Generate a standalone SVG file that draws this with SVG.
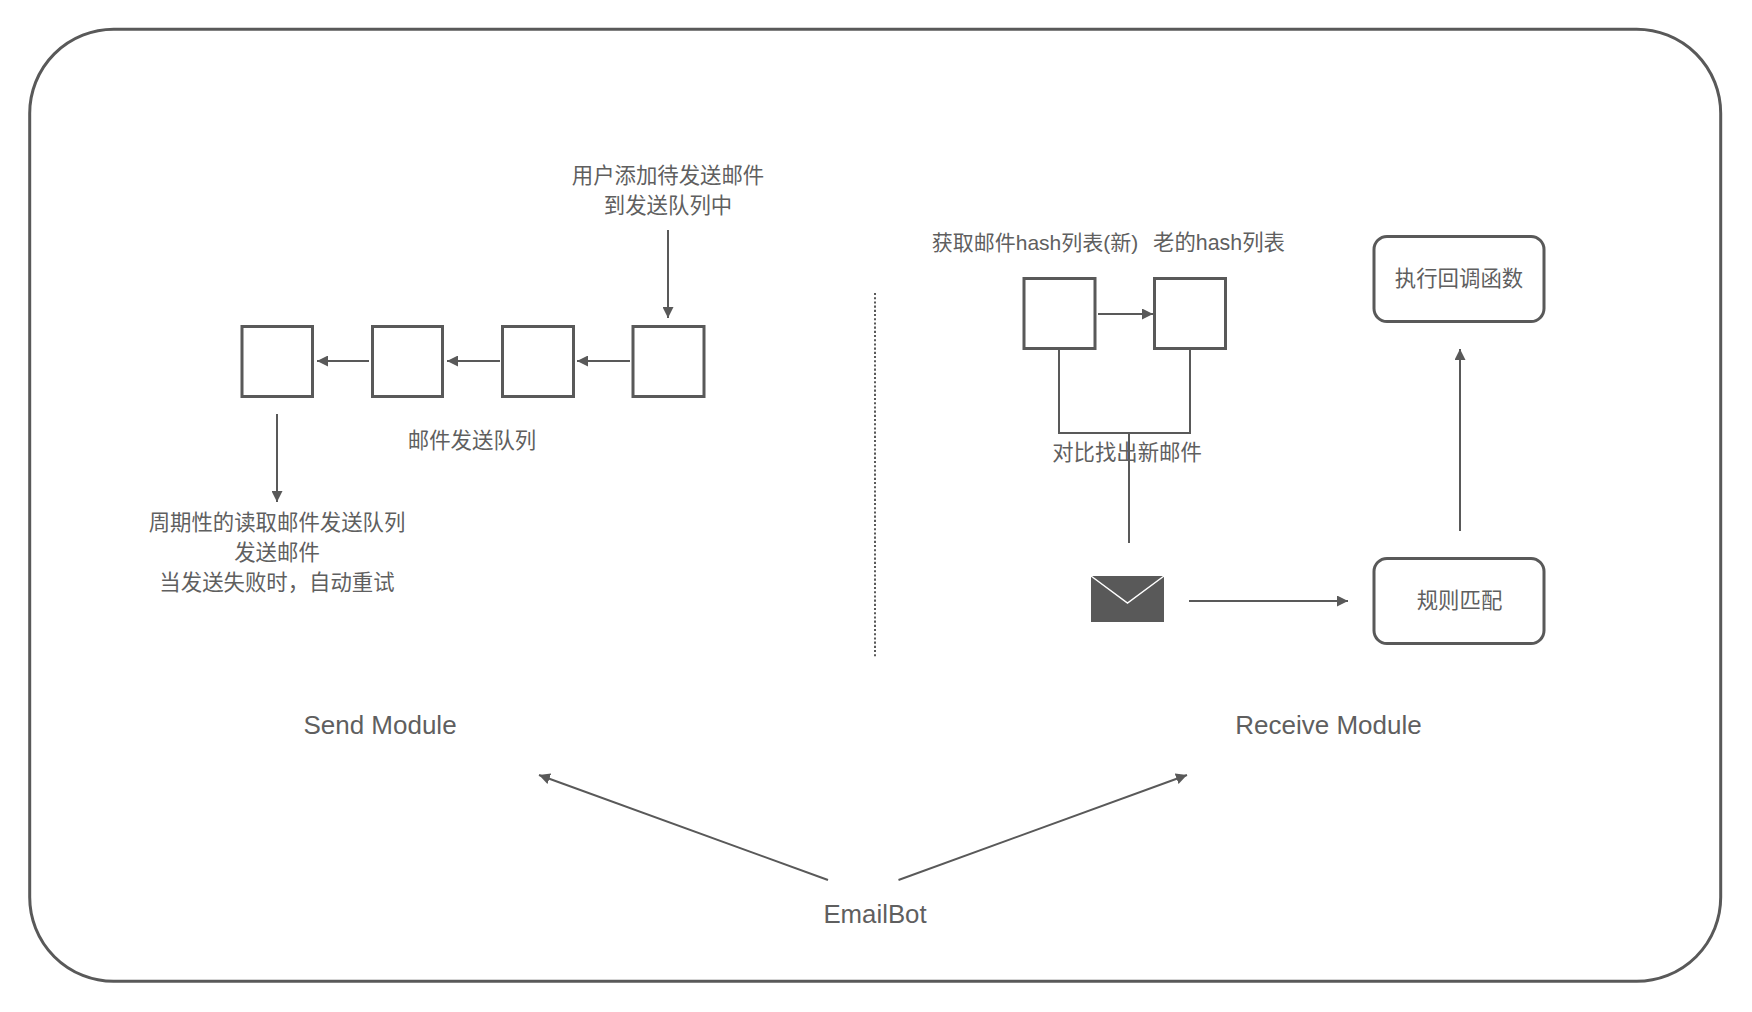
<svg xmlns="http://www.w3.org/2000/svg" width="1752" height="1012" viewBox="0 0 1752 1012">
<style>
.box{fill:#fff;stroke:#595959;stroke-width:3}
.ln{fill:none;stroke:#595959;stroke-width:2}
.ar{marker-end:url(#a)}
text{fill:#5f5f5f;font-family:"Liberation Sans","Noto Sans CJK SC",sans-serif;font-size:21.4px;text-anchor:middle}
.big{font-size:26px}
</style>
<defs><marker id="a" viewBox="0 0 10 10" refX="10" refY="5" markerWidth="11" markerHeight="11" markerUnits="userSpaceOnUse" orient="auto"><path d="M0 0L10 5L0 10Z" fill="#595959"/></marker></defs>
<rect width="1752" height="1012" fill="#fff"/>
<g id="frame"><rect x="29.700" y="29.300" width="1691" height="952" rx="84" ry="84" fill="#fff" stroke="#595959" stroke-width="3"/></g>
<g id="connectors">
<path class="ln ar" d="M630 361H577"/>
<path class="ln ar" d="M500 361H447"/>
<path class="ln ar" d="M369 361H317"/>
<path class="ln ar" d="M668 230V318"/>
<path class="ln ar" d="M277 414V502"/>
<path class="ln" d="M875 293V658" stroke-dasharray="2.100 2.100" stroke-width="1.800"/>
<path class="ln ar" d="M1098 314H1153"/>
<path class="ln" d="M1059 349V433H1190V349M1129 433V543"/>
<path class="ln ar" d="M1189 601H1348"/>
<path class="ln ar" d="M1460 531V349"/>
<path class="ln ar" d="M828 880L539 775"/>
<path class="ln ar" d="M898.500 880L1187 775"/>
</g>
<g id="q1"><rect class="box" x="242" y="326.500" width="70.500" height="70"/></g>
<g id="q2"><rect class="box" x="372.500" y="326.500" width="70" height="70"/></g>
<g id="q3"><rect class="box" x="502.500" y="326.500" width="71" height="70"/></g>
<g id="q4"><rect class="box" x="633" y="326.500" width="71" height="70"/></g>
<g id="hash-new"><rect class="box" x="1024" y="278.500" width="71" height="70"/></g>
<g id="hash-old"><rect class="box" x="1154.500" y="278.500" width="71" height="70"/></g>
<g id="callback"><rect class="box" x="1374" y="236.500" width="170" height="85" rx="13"/><text x="1459" y="286">执行回调函数</text></g>
<g id="match"><rect class="box" x="1374" y="558.500" width="170" height="85" rx="13"/><text x="1459.500" y="608">规则匹配</text></g>
<g id="envelope"><rect x="1091" y="576" width="73" height="46" fill="#595959"/><path d="M1091 576L1127.500 603L1164 576" fill="none" stroke="#fff" stroke-width="1.500"/></g>
<g id="labels">
<text x="668" y="183">用户添加待发送邮件</text>
<text x="668" y="213">到发送队列中</text>
<text x="472" y="448">邮件发送队列</text>
<text x="277" y="530">周期性的读取邮件发送队列</text>
<text x="277" y="560">发送邮件</text>
<text x="277" y="590">当发送失败时，自动重试</text>
<text x="1035" y="250" style="font-size:21px">获取邮件hash列表(新)</text>
<text x="1219" y="250">老的hash列表</text>
<text x="1127" y="460">对比找出新邮件</text>
<text class="big" x="380" y="734">Send Module</text>
<text class="big" x="1328.500" y="734">Receive Module</text>
<text class="big" x="875" y="923" style="font-size:25.800px">EmailBot</text>
</g>
</svg>
